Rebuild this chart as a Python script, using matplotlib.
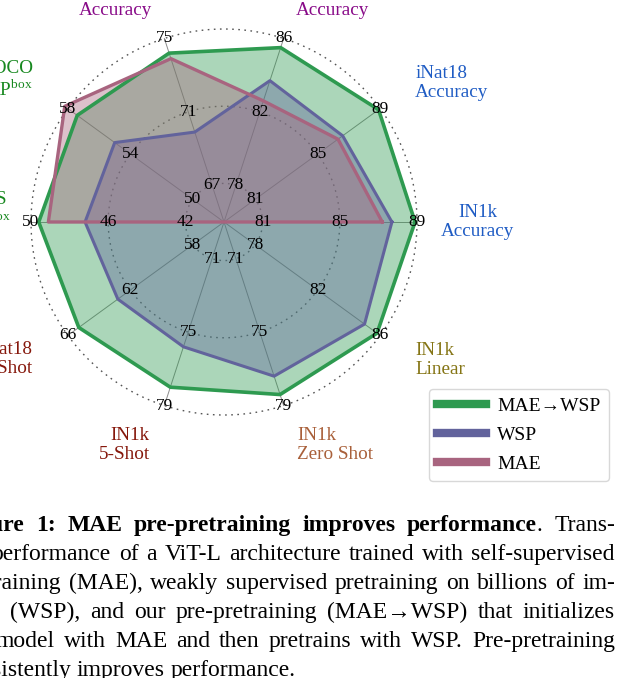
import numpy as np
import matplotlib
matplotlib.use('Agg')
from matplotlib import pyplot as plt
from matplotlib.transforms import IdentityTransform

plt.rcParams['font.family'] = ['Liberation Serif', 'DejaVu Serif']
plt.rcParams['mathtext.fontset'] = 'custom'
plt.rcParams['mathtext.rm'] = 'Liberation Serif'

# radar axes, counter-clockwise starting from the right
axis_names = ['IN1k\nAccuracy', 'iNat18\nAccuracy', 'K400\nAccuracy', 'SSv2\nAccuracy',
              'COCO\nAP$^{\\mathrm{box}}$', 'LVIS\nAP$^{\\mathrm{box}}$', 'iNat18\n5-Shot',
              'IN1k\n5-Shot', 'IN1k\nZero Shot', 'IN1k\nLinear']
axis_colors = ['#1f5cc4', '#1f5cc4', '#880a88', '#880a88', '#17881f', '#17881f',
               '#86180c', '#86180c', '#a9603a', '#857515']
# values written on the three rings of every axis
ring_vals = [[81, 85, 89], [81, 85, 89], [78, 82, 86], [67, 71, 75], [50, 54, 58],
             [42, 46, 50], [58, 62, 66], [71, 75, 79], [71, 75, 79], [78, 82, 86]]

mae_wsp = [88.9, 88.9, 85.5, 74.2, 57.4, 49.6, 65.3, 78.0, 78.4, 85.8]
wsp = [87.7, 86.6, 83.7, 69.9, 55.0, 47.2, 62.8, 75.8, 77.4, 85.0]
mae = [87.2, 86.3, 82.6, 73.9, 58.2, 49.1, None, None, None, None]

series_names = ['MAE\u2192WSP', 'WSP', 'MAE']
series_colors = ['#2e9a50', '#62639c', '#a8647f']

caption = [
    'Figure 1: MAE pre-pretraining improves performance. Trans-',
    'fer performance of a ViT-L architecture trained with self-supervised',
    'pretraining (MAE), weakly supervised pretraining on billions of im-',
    'ages (WSP), and our pre-pretraining (MAE\u2192WSP) that initializes',
    'the model with MAE and then pretrains with WSP. Pre-pretraining',
    'consistently improves performance.',
]
n_bold = 6  # first words of the caption set in bold

ring_r = np.array([0.2, 0.6, 1.0])
n_ax = len(axis_names)
theta = np.arange(n_ax) * 2 * np.pi / n_ax


def to_r(vals):
    out = []
    for v, rv in zip(vals, ring_vals):
        if v is None:
            out.append(0.)
        else:
            out.append(0.2 + (v - rv[0]) / (rv[2] - rv[0]) * 0.8)
    return np.array(out)


W, H = 634, 678
fig = plt.figure(figsize=(W / 100, H / 100), dpi=100)
cx, cy, R = 224, 222, 193
rmax = 1.1
half = R * rmax
ax = fig.add_axes([(cx - half) / W, (H - cy - half) / H, 2 * half / W, 2 * half / H],
                  projection='polar')
ax.set_ylim(0, rmax)
ax.axis('off')
ax.patch.set_alpha(0)

# grid: spokes and dotted rings
tt = np.linspace(0, 2 * np.pi, 400)
for r in ring_r:
    ax.plot(tt, np.full_like(tt, r), color='#555555', lw=1.0, ls=(0, (1.2, 3.2)), zorder=1)
for th in theta:
    ax.plot([th, th], [0, 1], color='#8c8c8c', lw=0.7, zorder=1)

for vals, name, col, lw in zip([mae_wsp, wsp, mae], series_names, series_colors, [2.6, 2.2, 2.4]):
    rr = to_r(vals)
    th_c = np.append(theta, theta[0])
    rr_c = np.append(rr, rr[0])
    ax.fill(th_c, rr_c, color=col, alpha=0.4, lw=0, zorder=2, clip_on=False)
    ax.plot(th_c, rr_c, color=col, lw=lw, label=name, zorder=3, clip_on=False)

for th, rv in zip(theta, ring_vals):
    for r, v in zip(ring_r, rv):
        ax.text(th, r, str(v), ha='center', va='center', fontsize=12.5, zorder=5)

label_ang = [0, 36, 72, 108, 143.4, 177.5, 215.6, 251.6, 288.1, 324.2]
label_rad = [1.316, 1.225, 1.205, 1.205, 1.233, 1.23, 1.218, 1.217, 1.216, 1.221]
label_ha = ['center', 'left', 'left', 'right', 'right', 'center', 'right', 'right', 'left', 'left']
for name, col, a, r, ha in zip(axis_names, axis_colors, label_ang, label_rad, label_ha):
    ax.text(np.deg2rad(a), r, name, color=col, ha=ha, va='center', fontsize=13.8,
            linespacing=1.15, clip_on=False)

leg = fig.legend(loc='upper left', bbox_to_anchor=(429 / W, 1 - 389 / H), borderaxespad=0,
                 fontsize=14, handlelength=2.5, handletextpad=0.6, labelspacing=0.58,
                 borderpad=0.42, fancybox=True, framealpha=1, edgecolor='#d8d8d8')
for h in leg.legend_handles:
    h.set_linewidth(6)

# justified caption, placed word by word in pixels
cap_fs = 17
x_left, x_right = -42, 615
baselines = [531, 560, 589, 618, 647, 676]
rend = fig.canvas.get_renderer()
word_i = 0
for k, (line, yb) in enumerate(zip(caption, baselines)):
    words = line.split(' ')
    items = []
    for w in words:
        if word_i < n_bold:
            if word_i == n_bold - 1 and w.endswith('.'):
                segs = [(w[:-1], 'bold'), ('.', 'normal')]
            else:
                segs = [(w, 'bold')]
        else:
            segs = [(w, 'normal')]
        word_i += 1
        ts = []
        wid = 0
        for s, wt in segs:
            t = fig.text(0, H - yb, s, fontsize=cap_fs, fontweight=wt, va='baseline', ha='left',
                         transform=IdentityTransform())
            ww = t.get_window_extent(rend).width
            ts.append((t, wid))
            wid += ww
        items.append((ts, wid))
    total = sum(it[1] for it in items)
    if k < len(caption) - 1:
        gap = (x_right - x_left - total) / (len(items) - 1)
    else:
        gap = cap_fs * 100 / 72 * 0.25
    x = x_left
    for ts, wid in items:
        for t, off in ts:
            t.set_x(x + off)
        x += wid + gap

fig.savefig('out.png', dpi=100)
